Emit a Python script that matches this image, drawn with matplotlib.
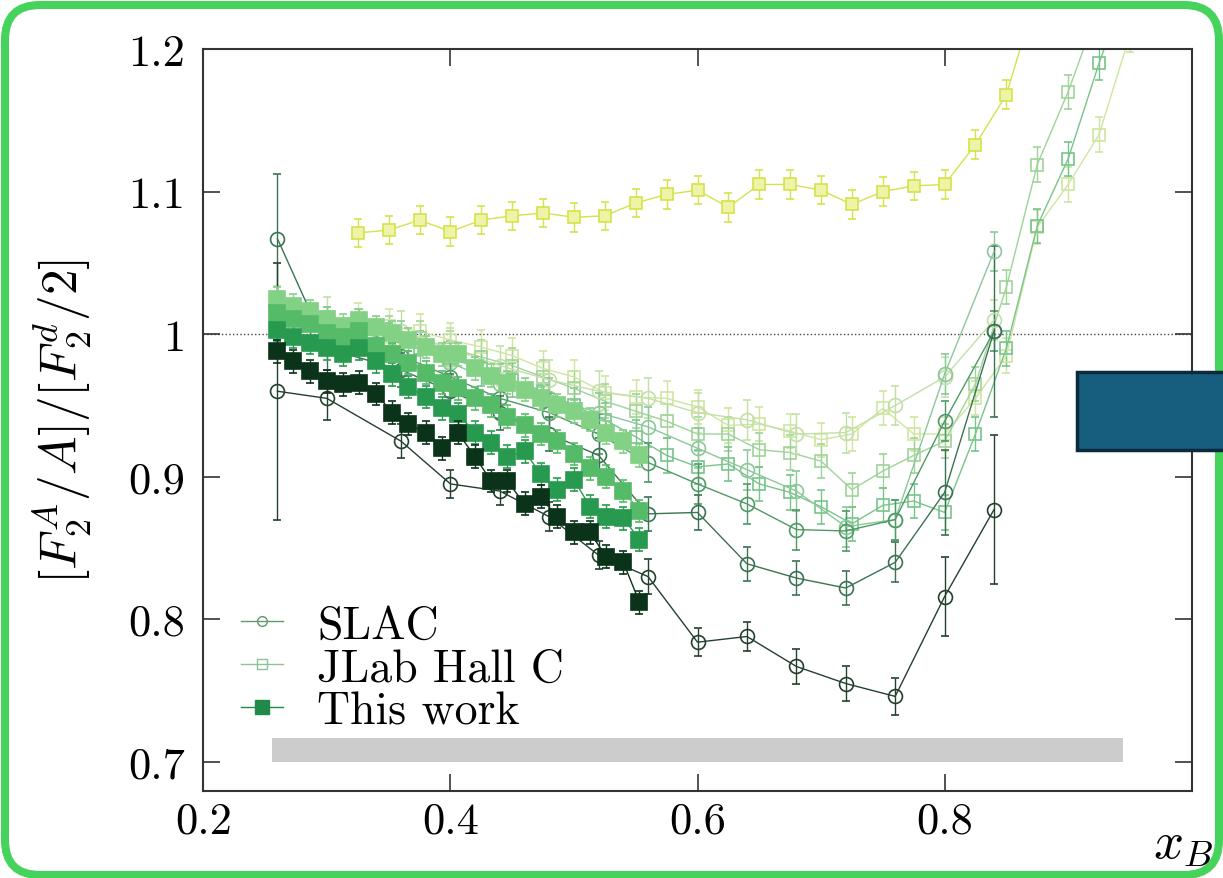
import matplotlib
matplotlib.use('Agg')
import matplotlib.pyplot as plt
from matplotlib.patches import FancyBboxPatch, Rectangle
from matplotlib.lines import Line2D

plt.rcParams['font.family'] = 'serif'
plt.rcParams['font.serif'] = ['cmr10']
plt.rcParams['mathtext.fontset'] = 'cm'
plt.rcParams['axes.formatter.use_mathtext'] = True

# ---- data ----
# CLAS ("This work"), filled squares
clas_x = [0.260, 0.273, 0.286, 0.300, 0.313, 0.326, 0.340, 0.353, 0.366, 0.380, 0.393, 0.406,
          0.420, 0.433, 0.446, 0.460, 0.473, 0.486, 0.500, 0.513, 0.526, 0.540, 0.553]
clas_c = [1.025, 1.020, 1.016, 1.011, 1.006, 1.010, 1.005, 1.001, 0.996, 0.991, 0.986, 0.986,
          0.976, 0.971, 0.966, 0.961, 0.955, 0.950, 0.946, 0.940, 0.931, 0.925, 0.915]
clas_al = [1.015, 1.011, 1.007, 1.001, 0.998, 1.002, 0.992, 0.986, 0.980, 0.973, 0.966, 0.962,
           0.955, 0.950, 0.942, 0.936, 0.930, 0.925, 0.916, 0.906, 0.900, 0.890, 0.876]
clas_fe = [1.003, 0.998, 0.994, 0.990, 0.986, 0.990, 0.981, 0.972, 0.963, 0.956, 0.948, 0.944,
           0.931, 0.924, 0.914, 0.918, 0.902, 0.891, 0.898, 0.879, 0.872, 0.871, 0.856]
clas_pb = [0.988, 0.981, 0.974, 0.967, 0.965, 0.966, 0.958, 0.945, 0.937, 0.931, 0.920, 0.931,
           0.914, 0.897, 0.897, 0.881, 0.886, 0.872, 0.861, 0.861, 0.844, 0.840, 0.812]
clas_err = 0.008

# JLab Hall C, open squares
jlab_x = [0.325, 0.350, 0.375, 0.400, 0.425, 0.450, 0.475, 0.500, 0.525, 0.550, 0.575, 0.600,
          0.625, 0.650, 0.675, 0.700, 0.725, 0.750, 0.775, 0.800, 0.825, 0.850, 0.875, 0.900,
          0.925, 0.950]
jlab_he3 = [1.071, 1.073, 1.080, 1.072, 1.080, 1.083, 1.085, 1.082, 1.083, 1.092, 1.098, 1.101,
            1.089, 1.105, 1.105, 1.101, 1.091, 1.100, 1.104, 1.105, 1.133, 1.168, 1.240]
jlab_he4 = [1.010, 1.006, 1.002, 0.996, 0.991, 0.985, 0.976, 0.970, 0.959, 0.956, 0.955, 0.949,
            0.936, 0.937, 0.932, 0.926, 0.930, 0.948, 0.930, 0.930, 0.955, 0.985, 1.075, 1.105,
            1.140, 1.210]
jlab_be = [1.006, 1.001, 0.997, 0.990, 0.984, 0.978, 0.970, 0.962, 0.953, 0.946, 0.939, 0.930,
           0.930, 0.919, 0.917, 0.911, 0.891, 0.904, 0.915, 0.925, 0.965, 1.033, 1.119, 1.170,
           1.230]
jlab_c = [1.002, 0.996, 0.990, 0.983, 0.976, 0.968, 0.960, 0.950, 0.940, 0.928, 0.915, 0.907,
          0.909, 0.895, 0.889, 0.879, 0.867, 0.880, 0.883, 0.875, 0.930, 0.990, 1.076, 1.123,
          1.190, 1.250]
jlab_err = 0.012

# SLAC, open circles
slac_x = [0.26, 0.30, 0.36, 0.40, 0.44, 0.48, 0.52, 0.56, 0.60, 0.64, 0.68, 0.72, 0.76, 0.80, 0.84]
slac_1 = [0.960, 0.955, 0.925, 0.895, 0.890, 0.872, 0.845, 0.830, 0.784, 0.788, 0.767, 0.755,
          0.746, 0.816, 0.877]
slac_1_err = [0.090, 0.015, 0.012, 0.010, 0.010, 0.010, 0.010, 0.012, 0.010, 0.010, 0.012,
              0.012, 0.013, 0.028, 0.052]
slac_2 = [1.067, 0.990, 0.975, 0.960, 0.945, 0.930, 0.915, 0.874, 0.875, 0.839, 0.829, 0.822,
          0.840, 0.889, 1.002]
slac_2_err = [0.045, 0.015, 0.012, 0.012, 0.012, 0.012, 0.012, 0.012, 0.012, 0.012, 0.012,
              0.012, 0.014, 0.030, 0.060]
slac_3 = [1.010, 1.000, 0.985, 0.970, 0.955, 0.945, 0.930, 0.910, 0.895, 0.881, 0.863, 0.862,
          0.870, 0.939, 1.002]
slac_4 = [1.015, 1.005, 0.995, 0.980, 0.965, 0.955, 0.945, 0.935, 0.920, 0.905, 0.890, 0.865,
          0.870, 0.972, 1.058]
slac_5 = [1.020, 1.012, 1.002, 0.990, 0.978, 0.968, 0.960, 0.955, 0.945, 0.940, 0.930, 0.931,
          0.950, 0.970, 1.010]
slac_err = 0.014

fig = plt.figure(figsize=(12.23, 8.79), dpi=100)
ax = fig.add_axes([203.3 / 1223, 1 - 791.5 / 879, (1191.7 - 203.3) / 1223, (791.5 - 50) / 879])

def draw(x, y, err, color, marker, ms, face, z, lw=1.0):
    n = len(y)
    ax.errorbar(x[:n], y, yerr=err, color=color, marker=marker, ms=ms, mfc=face, mec=color,
                mew=1.2, lw=lw, elinewidth=1.0, capsize=3, capthick=1.0, zorder=z)

# JLab
draw(jlab_x, jlab_he4, jlab_err, '#cfe5a0', 's', 9, 'none', 2)
draw(jlab_x, jlab_be, jlab_err, '#9fd39a', 's', 9, 'none', 2)
draw(jlab_x, jlab_c, jlab_err, '#78c48a', 's', 9, 'none', 2)
draw(jlab_x, jlab_he3, 0.01, '#d4e34a', 's', 9, '#eef3a8', 2)
# SLAC
draw(slac_x, slac_5, slac_err, '#c3dfa8', 'o', 10, 'none', 3)
draw(slac_x, slac_4, slac_err, '#8cc79a', 'o', 10, 'none', 3)
draw(slac_x, slac_3, slac_err, '#4f9a66', 'o', 10, 'none', 3)
draw(slac_x, slac_2, slac_2_err, '#3a7352', 'o', 10, 'none', 3)
draw(slac_x, slac_1, slac_1_err, '#24402f', 'o', 10, 'none', 3)
# CLAS
draw(clas_x, clas_c, clas_err, '#82d184', 's', 11, '#82d184', 5)
draw(clas_x, clas_al, clas_err, '#56bb68', 's', 11, '#56bb68', 5)
draw(clas_x, clas_fe, clas_err, '#279a4f', 's', 11, '#279a4f', 5)
draw(clas_x, clas_pb, clas_err, '#0b3319', 's', 11, '#0b3319', 6)

ax.axhline(1.0, color='#444444', lw=1.0, ls=':', zorder=1)
ax.fill_between([0.256, 0.944], 0.700, 0.717, color='#cccccc', lw=0, zorder=1)

ax.set_xlim(0.2, 1.0)
ax.set_ylim(0.68, 1.2)
ax.set_xticks([0.2, 0.4, 0.6, 0.8])
ax.set_xticklabels(['0.2', '0.4', '0.6', '0.8'])
ax.set_yticks([0.7, 0.8, 0.9, 1.0, 1.1, 1.2])
ax.set_yticklabels(['0.7', '0.8', '0.9', '1', '1.1', '1.2'])
ax.tick_params(direction='in', length=12, width=1.2, color='#333333', top=True, right=True,
               labelsize=32)
ax.tick_params(axis='x', pad=8)
ax.tick_params(axis='y', pad=13)
for s in ax.spines.values():
    s.set_color('#333333')
    s.set_linewidth(1.5)

handles = [
    Line2D([], [], color='#5f9a70', marker='o', ms=7, mfc='none', lw=1.0),
    Line2D([], [], color='#8cc49a', marker='s', ms=7, mfc='none', lw=1.0),
    Line2D([], [], color='#1f8a4a', marker='s', ms=10, lw=1.0),
]
ax.legend(handles, ['SLAC', 'JLab Hall C', 'This work'], loc='lower left',
          bbox_to_anchor=(0.006, 0.035), frameon=False, fontsize=33, handlelength=0.9,
          handletextpad=0.75, labelspacing=0.03, borderpad=0.2)

fig.text(62 / 1223, 1 - 422 / 879, r'$[F_2^A/A]/[F_2^d/2]$', rotation=90, fontsize=37,
         ha='center', va='center')
fig.text(1183 / 1223, 1 - 846 / 879, r'$x_B$', fontsize=38, ha='center', va='center')

# green frame and the dark box over the right edge
fig.patches.append(FancyBboxPatch((5, 3), 1214, 870, boxstyle='round,pad=0,rounding_size=35',
                                  transform=None, fill=False, ec='#45d35c', lw=5.8,
                                  figure=fig, zorder=20))
fig.patches.append(Rectangle((1077, 879 - 451), 160, 78, transform=None, fc='#175d7e',
                             ec='#0b2a3b', lw=2.5, figure=fig, zorder=21))

fig.savefig('out.png', dpi=100)
